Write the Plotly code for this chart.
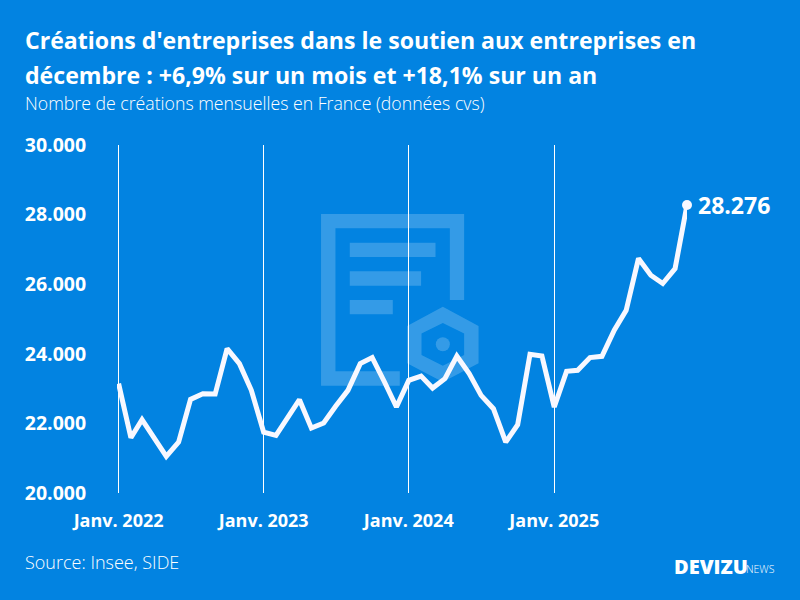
import plotly.graph_objects as go

months = [f"{y}-{m:02d}-01" for y in range(2022, 2026) for m in range(1, 13)]
values = [23142, 21588, 22106, 21588, 21050, 21462, 22690, 22854, 22843, 24150, 23718, 22950,
          21750, 21655, 22164, 22680, 21865, 22010, 22490, 22950, 23718, 23890, 23190, 22470,
          23237, 23360, 23016, 23286, 23937, 23430, 22806, 22423, 21462, 21962, 23986, 23937,
          22470, 23496, 23525, 23890, 23928, 24676, 25252, 26740, 26259, 26020, 26450, 28276]
x_tick_vals = ["2022-01-01", "2023-01-01", "2024-01-01", "2025-01-01"]
x_tick_text = ["Janv. 2022", "Janv. 2023", "Janv. 2024", "Janv. 2025"]
y_tick_vals = [20000, 22000, 24000, 26000, 28000, 30000]
y_tick_text = ["20.000", "22.000", "24.000", "26.000", "28.000", "30.000"]
title_lines = ["Créations d'entreprises dans le soutien aux entreprises en",
               "décembre : +6,9% sur un mois et +18,1% sur un an"]
subtitle = "Nombre de créations mensuelles en France (données cvs)"
source = "Source: Insee, SIDE"
last_label = "28.276"

BG = "#0283E1"
WHITE = "#FFFFFF"
LINE = "#F8F8FF"
FONT = "Open Sans"
W, H = 800, 600
L, R, T, B = 117.4, 113, 145, 107


def px(x):
    return (x - L) / (W - L - R)


def py(y):
    return 1 - (y - T) / (H - T - B)


def poly(points):
    return "M" + " L".join(f"{px(a):.5f},{py(b):.5f}" for a, b in points) + " Z"


mark = "rgba(255,255,255,0.2)"
doc = [(321.3, 214), (464.3, 214), (464.3, 300), (450, 300), (450, 228.3), (335.7, 228.3),
       (335.7, 371.3), (400, 371.3), (400, 385.7), (321.3, 385.7)]
bars = [(350, 242.7, 435.7, 257), (350, 271.3, 421.3, 285.7), (350, 300, 393, 314.3)]
hex_outer = [(443, 306.7), (478.7, 326), (478.7, 363.3), (443, 382), (407.3, 363.3), (407.3, 326)]
hex_inner = [(443, 323), (464.3, 333.6), (464.3, 355), (443, 365.7), (421.7, 355), (421.7, 333.6)]

shapes = [dict(type="path", xref="paper", yref="paper", path=poly(doc), fillcolor=mark, line_width=0, layer="below")]
for x0, y0, x1, y1 in bars:
    shapes.append(dict(type="rect", xref="paper", yref="paper", x0=px(x0), x1=px(x1), y0=py(y0), y1=py(y1),
                       fillcolor=mark, line_width=0, layer="below"))
shapes.append(dict(type="path", xref="paper", yref="paper", path=poly(hex_outer) + " " + poly(hex_inner),
                   fillcolor=mark, line_width=0, layer="below"))
shapes.append(dict(type="circle", xref="paper", yref="paper", x0=px(436), x1=px(450), y0=py(337.3), y1=py(351.3),
                   fillcolor=mark, line_width=0, layer="below"))


def txt(text, x, y, size, bold=False, weight=None):
    font = dict(family=FONT, size=size, color=WHITE)
    if weight:
        font["weight"] = weight
    return dict(text=f"<b>{text}</b>" if bold else text, xref="paper", yref="paper", x=px(x), y=py(y),
                xanchor="left", yanchor="middle", showarrow=False, align="left", borderpad=0, borderwidth=0,
                font=font)


annotations = [
    txt(title_lines[0], 25, 40, 23.1, True),
    txt(title_lines[1], 25, 75, 23.1, True),
    txt(subtitle, 25, 103, 17.7, weight=300),
    txt(source, 25, 562, 18, weight=300),
    txt("DEVIZU", 674, 566, 20, weight=800),
    txt("NEWS", 746, 569, 10.5, weight=300),
    dict(text=f"<b>{last_label}</b>", x=months[-1], y=values[-1], xref="x", yref="y", xanchor="left",
         yanchor="middle", xshift=9, showarrow=False, font=dict(family=FONT, size=23, color=WHITE)),
]

fig = go.Figure()
fig.add_trace(go.Scatter(x=months, y=values, mode="lines", cliponaxis=False,
                         line=dict(color=LINE, width=5), hoverinfo="skip"))
fig.add_trace(go.Scatter(x=months[-1:], y=values[-1:], mode="markers", cliponaxis=False,
                         marker=dict(color=LINE, size=10), hoverinfo="skip"))
fig.update_layout(
    width=W, height=H, autosize=False, showlegend=False,
    paper_bgcolor=BG, plot_bgcolor=BG,
    margin=dict(l=L, r=R, t=T, b=B, pad=0),
    shapes=shapes, annotations=annotations,
    font=dict(family=FONT, color=WHITE),
    xaxis=dict(type="date", range=["2021-12-28", months[-1]], tickvals=x_tick_vals, ticktext=x_tick_text,
               showgrid=True, gridcolor=WHITE, gridwidth=1, zeroline=False, showline=False,
               ticks="outside", ticklen=11, tickcolor="rgba(0,0,0,0)",
               tickfont=dict(family=FONT, size=18, color=WHITE, weight="bold")),
    yaxis=dict(range=[20000, 30000], tickvals=y_tick_vals, ticktext=y_tick_text, showgrid=False,
               zeroline=False, showline=False, ticks="outside", ticklen=26, tickcolor="rgba(0,0,0,0)",
               tickfont=dict(family=FONT, size=19.5, color=WHITE, weight="bold")),
)
fig.write_html("out.html", config=dict(displayModeBar=False),
               post_script="document.body.style.margin='0';document.documentElement.style.background='#0283E1';")
